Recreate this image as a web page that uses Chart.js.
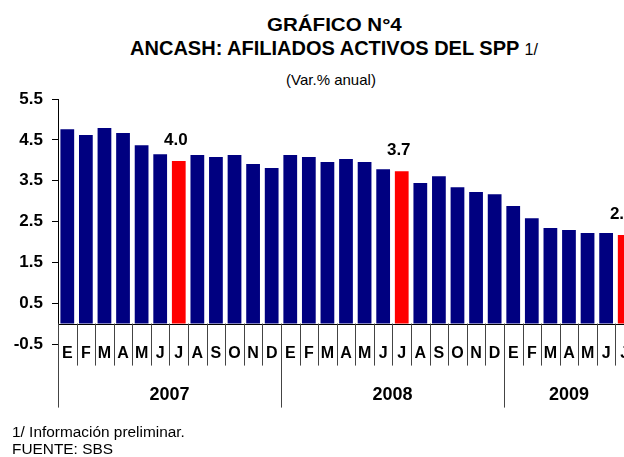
<!DOCTYPE html>
<html>
<head>
<meta charset="utf-8">
<script src="https://cdn.jsdelivr.net/npm/chart.js@4.4.0/dist/chart.umd.min.js"></script>
<style>
  body { margin: 0; width: 624px; height: 457px; overflow: hidden; background: #fff; position: relative;
         font-family: "Liberation Sans", Arial, sans-serif; color: #000; }
  #chart { position: absolute; left: 0; top: 0; }
  .t { position: absolute; left: 0; width: 668px; text-align: center; white-space: nowrap; }
  .note { position: absolute; left: 12px; font-size: 14px; white-space: nowrap; transform: scaleX(1.1); transform-origin: left center; }
</style>
</head>
<body>
<div class="t" style="top:13px; line-height:24px; font-size:19px; font-weight:bold;"><span style="display:inline-block; transform:scaleX(1.08);">GRÁFICO N°4</span></div>
<div class="t" style="top:36px; line-height:24px; font-size:20px; font-weight:bold;">ANCASH: AFILIADOS ACTIVOS DEL SPP <span style="font-weight:normal; font-size:16px;">1/</span></div>
<div class="t" style="top:70px; line-height:20px; font-size:15px; width:662px;">(Var.% anual)</div>
<canvas id="chart" width="640" height="457"></canvas>
<div class="note" style="top:423px; line-height:18px;">1/ Información preliminar.</div>
<div class="note" style="top:440px; line-height:18px;">FUENTE: SBS</div>
<script>
const months = ['E', 'F', 'M', 'A', 'M', 'J', 'J', 'A', 'S', 'O', 'N', 'D',
                'E', 'F', 'M', 'A', 'M', 'J', 'J', 'A', 'S', 'O', 'N', 'D',
                'E', 'F', 'M', 'A', 'M', 'J', 'J'];
const years = ['2007', '2008', '2009'];
const values = [4.76, 4.62, 4.79, 4.67, 4.37, 4.15, 3.98, 4.13, 4.08, 4.13, 3.91, 3.81,
                4.13, 4.08, 3.96, 4.03, 3.96, 3.78, 3.73, 3.44, 3.61, 3.34, 3.22, 3.17,
                2.88, 2.58, 2.34, 2.29, 2.22, 2.22, 2.17];
const highlighted = [6, 18, 30];
const highlightLabels = ['4.0', '3.7', '2.2'];
const yTicks = [-0.5, 0.5, 1.5, 2.5, 3.5, 4.5, 5.5];

const NAVY = '#000080';
const RED = '#ff0000';
const FONT = '"Liberation Sans", Arial, sans-serif';

const barColors = values.map((v, i) => highlighted.includes(i) ? RED : NAVY);

// month boxes, year labels and the labels over the red bars
const axisPlugin = {
    id: 'monthAxis',
    afterDatasetsDraw(chart) {
        const ctx = chart.ctx;
        const x = chart.scales.x;
        const y = chart.scales.y;
        const y0 = y.getPixelForValue(0);
        const half = (x.getPixelForValue(1) - x.getPixelForValue(0)) / 2;
        const edge = i => x.getPixelForValue(i) - half;

        ctx.save();
        ctx.strokeStyle = '#000';
        ctx.lineWidth = 1;
        ctx.beginPath();
        ctx.moveTo(chart.chartArea.left, Math.round(y0) + 0.5);
        ctx.lineTo(chart.chartArea.right, Math.round(y0) + 0.5);
        ctx.stroke();

        ctx.strokeStyle = '#444';
        for (let i = 0; i <= months.length; i++) {
            const xe = Math.round(edge(i)) + 0.5;
            const len = i % 12 === 0 ? 84 : 42;
            ctx.beginPath();
            ctx.moveTo(xe, y0);
            ctx.lineTo(xe, y0 + len);
            ctx.stroke();
        }

        ctx.fillStyle = '#000';
        ctx.textAlign = 'center';
        ctx.textBaseline = 'middle';
        ctx.font = 'bold 16px ' + FONT;
        months.forEach((m, i) => {
            ctx.fillText(m, x.getPixelForValue(i), y0 + 30);
        });

        ctx.font = 'bold 18px ' + FONT;
        years.forEach((yr, k) => {
            const first = k * 12;
            const last = Math.min(first + 11, months.length - 1);
            const cx = (edge(first) + edge(last + 1)) / 2;
            ctx.fillText(yr, cx, y0 + 71);
        });

        ctx.font = 'bold 17px ' + FONT;
        highlighted.forEach((idx, k) => {
            ctx.fillText(highlightLabels[k], x.getPixelForValue(idx) - 3, y.getPixelForValue(values[idx]) - 21);
        });
        ctx.restore();
    }
};

new Chart(document.getElementById('chart'), {
    type: 'bar',
    data: {
        labels: months,
        datasets: [{
            data: values,
            backgroundColor: barColors,
            barPercentage: 0.74,
            categoryPercentage: 1.0
        }]
    },
    options: {
        responsive: false,
        animation: false,
        devicePixelRatio: 1,
        layout: { padding: { top: 99, bottom: 113, left: 0, right: 6 } },
        plugins: {
            legend: { display: false },
            tooltip: { enabled: false }
        },
        scales: {
            x: { display: false },
            y: {
                min: -0.5,
                max: 5.5,
                afterBuildTicks: s => { s.ticks = yTicks.map(v => ({ value: v })); },
                afterFit: s => { s.width = 58; },
                ticks: {
                    padding: 9,
                    color: '#000',
                    font: { family: FONT, size: 17, weight: 'bold' },
                    callback: v => v.toFixed(1)
                },
                grid: { drawOnChartArea: false, drawTicks: true, tickLength: 6, color: '#000' },
                border: { color: '#000', width: 1 }
            }
        }
    },
    plugins: [axisPlugin]
});
</script>
</body>
</html>
